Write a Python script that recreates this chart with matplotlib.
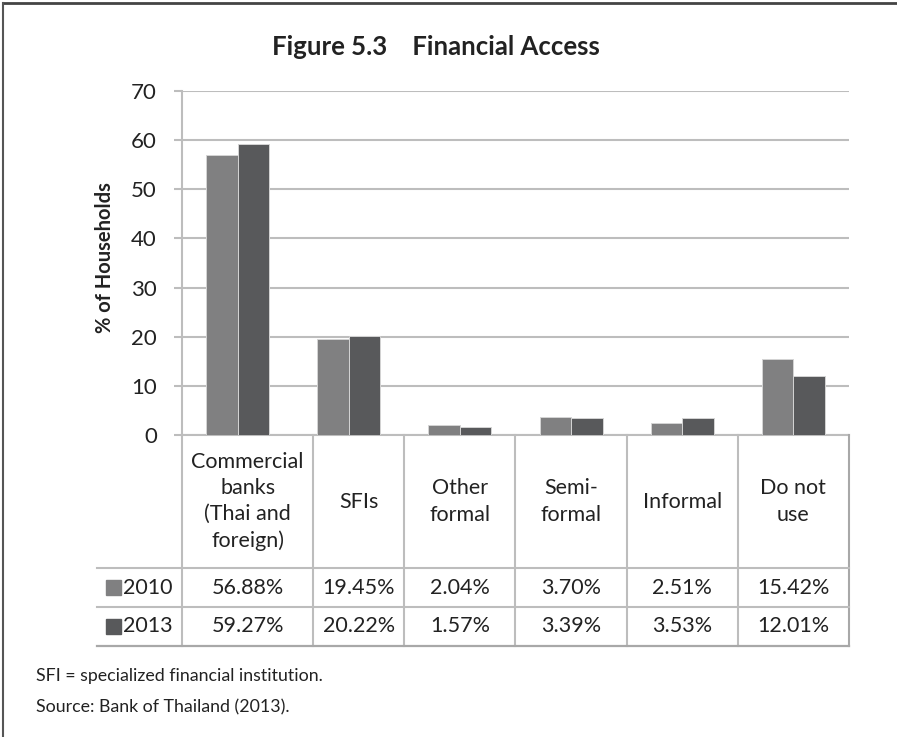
import numpy as np
import matplotlib
matplotlib.use('Agg')
import matplotlib.pyplot as plt
from matplotlib.patches import Rectangle
from matplotlib.lines import Line2D

plt.rcParams['font.family'] = ['Lato', 'DejaVu Sans']

# Share of households using each kind of financial institution
categories = ['Commercial\nbanks\n(Thai and\nforeign)', 'SFIs', 'Other\nformal',
              'Semi-\nformal', 'Informal', 'Do not\nuse']
years = ['2010', '2013']
vals_2010 = [56.88, 19.45, 2.04, 3.70, 2.51, 15.42]
vals_2013 = [59.27, 20.22, 1.57, 3.39, 3.53, 12.01]
colors = ['#808081', '#58595b']
y_ticks = [0, 10, 20, 30, 40, 50, 60, 70]

W, H = 897, 737
fig = plt.figure(figsize=(W / 100, H / 100), dpi=100)
grid_col = '#bdbdbd'
txt = '#222222'

# bar chart
ax = fig.add_axes([182 / W, 1 - 435 / H, 667 / W, 344 / H])
x = np.arange(len(categories)) + 0.5
bw = 0.283
ax.bar(x - bw / 2, vals_2010, bw, color=colors[0], edgecolor='#d4d4d4', linewidth=0.7, zorder=3)
ax.bar(x + bw / 2, vals_2013, bw, color=colors[1], edgecolor='#d4d4d4', linewidth=0.7, zorder=3)
ax.set_xlim(0, len(categories))
ax.set_ylim(0, 70)
ax.set_yticks(y_ticks)
ax.set_xticks([])
ax.yaxis.grid(True, color=grid_col, linewidth=1.5)
ax.set_axisbelow(True)
for s in ['top', 'right']:
    ax.spines[s].set_visible(False)
for s in ['left', 'bottom']:
    ax.spines[s].set_color(grid_col)
    ax.spines[s].set_linewidth(1.5)
ax.tick_params(axis='y', length=6, width=1.5, color=grid_col, labelsize=16, pad=12, labelcolor=txt)

fig.text(105 / W, 1 - 258 / H, '% of Households', rotation=90, ha='center', va='center',
         fontsize=14.5, fontweight='bold', color=txt)
fig.text(436 / W, 1 - 47 / H, 'Figure 5.3    Financial Access', ha='center', va='center',
         fontsize=18.5, fontweight='bold', color=txt)

# data table under the bars
left = (97 - 182) / 111.17
tax = fig.add_axes([97 / W, 1 - 646 / H, (849 - 97) / W, 211 / H])
tax.set_xlim(left, len(categories))
head = 133 / 39
tax.set_ylim(head + 2, 0)
tax.axis('off')
col_edges = [0, 1.18, 2, 3, 4, 5, 6]
for xe in col_edges:
    tax.plot([xe, xe], [0, head + 2], color=grid_col if xe < 6 else '#a8a8a8', lw=1.5, clip_on=False)
for ye in [head, head + 1]:
    tax.plot([left, 6], [ye, ye], color=grid_col, lw=1.5, clip_on=False)
tax.plot([left, 6], [head + 2, head + 2], color='#a8a8a8', lw=1.6, clip_on=False)

centers = [(a + b) / 2 for a, b in zip(col_edges[:-1], col_edges[1:])]
for cx, lab in zip(centers, categories):
    tax.text(cx, head / 2, lab, ha='center', va='center', fontsize=15.5, linespacing=1.38, color=txt)
for r, (yr, vals) in enumerate(zip(years, [vals_2010, vals_2013])):
    yc = head + r + 0.5
    tax.add_patch(Rectangle((-0.684, yc - 0.2), 0.135, 0.4, color=colors[r], clip_on=False))
    tax.text(-0.53, yc, yr, ha='left', va='center', fontsize=15.5, color=txt)
    for cx, v in zip(centers, vals):
        tax.text(cx, yc, f'{v:.2f}%', ha='center', va='center', fontsize=15.5, color=txt)

fig.text(36 / W, 1 - 676 / H, 'SFI = specialized financial institution.', ha='left', va='center',
         fontsize=12.8, color=txt)
fig.text(36 / W, 1 - 707 / H, 'Source: Bank of Thailand (2013).', ha='left', va='center',
         fontsize=12.8, color=txt)

# page frame
fig.add_artist(Line2D([3 / W, 1], [1 - 3 / H, 1 - 3 / H], color='#444444', lw=2))
fig.add_artist(Line2D([3 / W, 3 / W], [0, 1 - 3 / H], color='#555555', lw=1.5))

fig.savefig('out.png', dpi=100)
